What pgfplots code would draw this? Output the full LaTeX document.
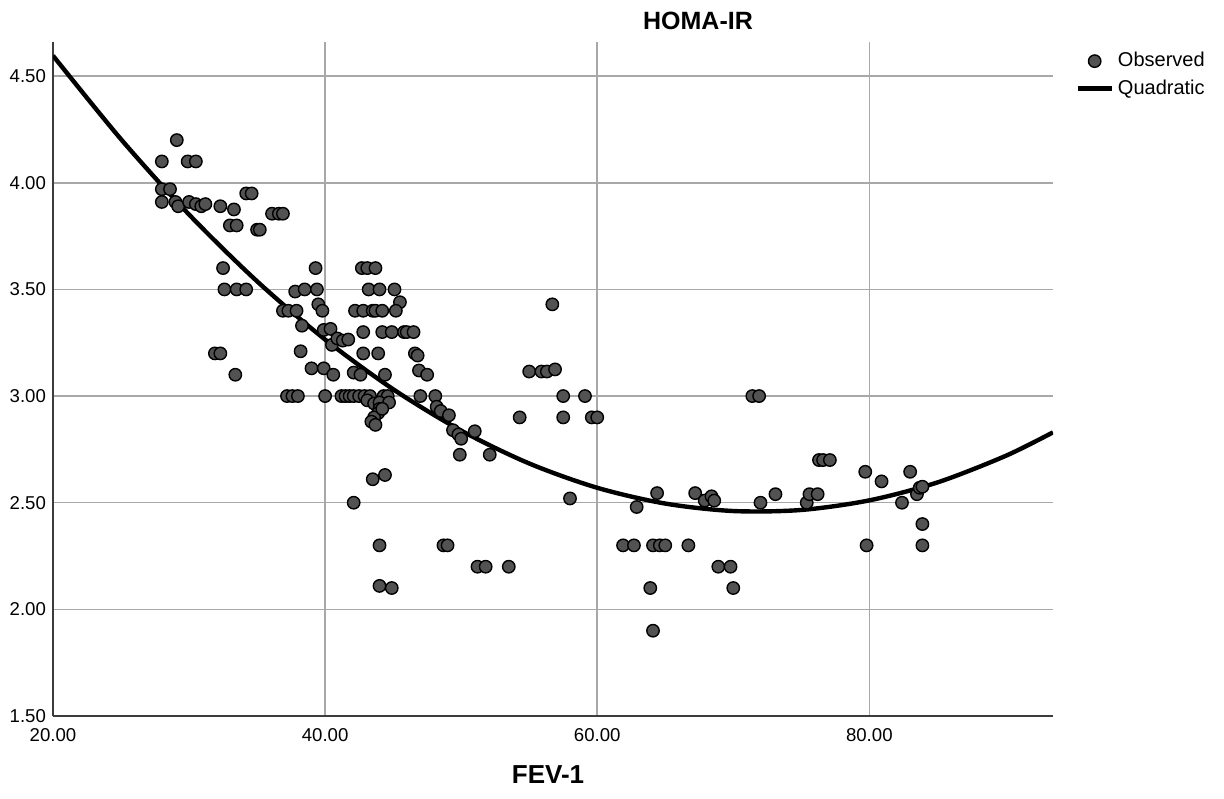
\documentclass[border=0pt]{standalone}
\usepackage{fontspec}
\setmainfont{Liberation Sans}
\usepackage{pgfplots}
\pgfplotsset{compat=1.18}
\definecolor{dotfill}{RGB}{82,82,82}
\definecolor{gridgray}{RGB}{168,168,168}
\definecolor{axisgray}{RGB}{60,60,60}

\begin{document}
\begin{tikzpicture}
\useasboundingbox (-26.5pt,-41pt) rectangle (585.5pt,358pt);
\begin{axis}[
  at={(0,0)}, anchor=south west,
  scale only axis, width=500pt, height=337pt,
  xmin=20, xmax=93.5, ymin=1.5, ymax=4.66,
  xtick={20,40,60,80},
  ytick={1.5,2,2.5,3,3.5,4,4.5},
  xmajorgrids, ymajorgrids,
  grid style={gridgray, line width=0.75pt},
  axis x line*=bottom, axis y line*=left,
  axis line style={axisgray, line width=0.9pt},
  tick style={draw=none},
  tick label style={font=\fontsize{9.3}{10}\selectfont},
  xticklabel style={yshift=-2.5pt, /pgf/number format/.cd, fixed, fixed zerofill, precision=2, assume math mode=true},
  yticklabel style={/pgf/number format/.cd, fixed, fixed zerofill, precision=2, assume math mode=true},
  title={\bfseries HOMA-IR},
  title style={at={(0.645,1)}, anchor=south, inner sep=0pt, yshift=0pt, font=\fontsize{12.5}{14}\selectfont},
  xlabel={\bfseries FEV-1},
  xlabel style={at={(0.495,0)}, anchor=center, yshift=-29.5pt, font=\fontsize{13}{15}\selectfont},
  legend style={draw=none, fill=none, at={(1,1)}, anchor=north west, xshift=8pt, yshift=-1pt,
    font=\fontsize{10}{12}\selectfont, row sep=1pt},
  legend cell align=left,
]
% observed values
\addplot[only marks, mark=*, mark size=3.1pt, mark options={fill=dotfill, draw=black, line width=0.7pt}]
coordinates {
(28.0,4.10) (29.1,4.20) (29.9,4.10) (30.5,4.10)
(28.0,3.97) (28.6,3.97) (28.0,3.91) (29.0,3.91) (29.2,3.89)
(30.0,3.91) (30.5,3.90) (30.9,3.89) (31.2,3.90) (32.3,3.89) (33.3,3.875)
(33.0,3.80) (33.5,3.80) (34.2,3.95) (34.6,3.95) (35.0,3.78) (35.2,3.78)
(36.1,3.855) (36.6,3.855) (36.9,3.855)
(32.5,3.60) (32.6,3.50) (33.5,3.50) (34.2,3.50)
(31.9,3.20) (32.3,3.20) (33.4,3.10)
(37.8,3.49) (38.5,3.50) (39.4,3.50) (39.3,3.60)
(36.9,3.40) (37.3,3.40) (37.9,3.40) (39.5,3.43) (39.8,3.40)
(38.3,3.33) (39.9,3.31) (40.4,3.315) (40.5,3.24)
(40.9,3.27) (41.3,3.26) (41.7,3.265) (38.2,3.21)
(39.0,3.13) (39.9,3.13) (40.6,3.10)
(37.2,3.00) (37.6,3.00) (38.0,3.00) (40.0,3.00)
(42.7,3.60) (43.1,3.60) (43.7,3.60)
(43.2,3.50) (44.0,3.50) (45.1,3.50) (45.5,3.44)
(42.2,3.40) (42.8,3.40) (43.5,3.40) (43.7,3.40) (44.2,3.40) (45.2,3.40)
(42.8,3.30) (44.2,3.30) (44.9,3.30) (45.8,3.30) (46.0,3.30) (46.5,3.30)
(42.8,3.20) (43.9,3.20) (46.6,3.20) (46.8,3.19)
(42.1,3.11) (42.6,3.10) (44.4,3.10) (46.9,3.12) (47.5,3.10)
(41.2,3.00) (41.5,3.00) (41.8,3.00) (42.1,3.00) (42.5,3.00) (42.9,3.00) (43.3,3.00)
(44.3,3.00) (44.6,3.00) (47.0,3.00) (48.1,3.00)
(43.1,2.98) (43.6,2.965) (44.0,2.97) (44.7,2.97) (44.0,2.94) (43.9,2.92)
(43.6,2.90) (43.4,2.88) (43.7,2.865) (44.2,2.94)
(48.2,2.95) (48.5,2.93) (49.1,2.91)
(49.4,2.84) (49.8,2.82) (50.0,2.80) (51.0,2.835)
(49.9,2.725) (52.1,2.725) (54.3,2.90)
(43.5,2.61) (44.4,2.63) (42.1,2.50) (44.0,2.30)
(48.7,2.30) (49.0,2.30) (51.2,2.20) (51.8,2.20) (53.5,2.20)
(44.0,2.11) (44.9,2.10)
(56.7,3.43) (55.0,3.115) (55.9,3.115) (56.3,3.115) (56.9,3.125)
(57.5,3.00) (59.1,3.00) (57.5,2.90) (59.6,2.90) (60.0,2.90)
(58.0,2.52) (62.9,2.48) (64.4,2.545)
(61.9,2.30) (62.7,2.30) (64.1,2.30) (64.6,2.30) (65.0,2.30) (66.7,2.30)
(63.9,2.10) (64.1,1.90)
(67.2,2.545) (67.9,2.51) (68.4,2.53) (68.6,2.51)
(68.9,2.20) (69.8,2.20) (70.0,2.10)
(71.4,3.00) (71.9,3.00) (72.0,2.50) (73.1,2.54)
(75.4,2.50) (75.6,2.54) (76.2,2.54)
(76.3,2.70) (76.6,2.70) (77.1,2.70)
(79.7,2.645) (80.9,2.60) (79.8,2.30)
(83.0,2.645) (82.4,2.50) (83.5,2.54) (83.7,2.57) (83.9,2.575)
(83.9,2.40) (83.9,2.30)
};
\addlegendentry{Observed}
% quadratic fit
\addplot[black, line width=2.2pt, smooth, no marks]
coordinates {
(20,4.596) (25,4.204) (30,3.851) (35,3.538) (40,3.265) (45,3.032)
(50,2.838) (55,2.684) (60,2.570) (65,2.496) (70,2.461) (75,2.466)
(80,2.511) (85,2.595) (90,2.719) (93.5,2.830)
};
\addlegendentry{Quadratic}
\end{axis}
\end{tikzpicture}
\end{document}
